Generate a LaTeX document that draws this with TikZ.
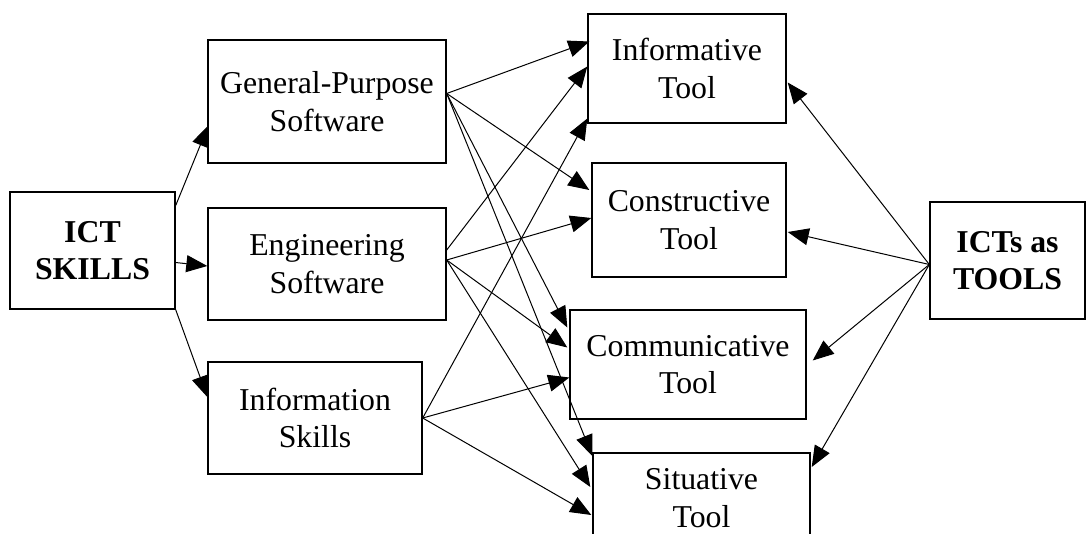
\documentclass[tikz,border=0pt]{standalone}
\usepackage{fontspec}
\setmainfont{Liberation Serif}
\usepackage{tikz}
\usetikzlibrary{shapes,arrows.meta,calc}
\tikzset{box/.style={rectangle,draw,line width=0.7pt,align=center,inner sep=0pt,font=\fontsize{15.9}{18.8}\selectfont}}

\begin{document}
\begin{tikzpicture}[x=0.5pt,y=-0.5pt,>={Triangle[length=10.5pt,width=8.5pt]},line width=0.5pt]
    \useasboundingbox (0,0) rectangle (1087,534);
    \clip (0,0) rectangle (1087,534);

    \node[box,minimum width=82.5pt,minimum height=58.5pt] (skills)at (92.5,250.5) {\textbf{ICT}\\\textbf{SKILLS}};
    \node[box,minimum width=119pt,minimum height=61.5pt] (gp)at (327,101.5) {General-Purpose\\Software};
    \node[box,minimum width=119pt,minimum height=56pt] (eng)at (327,264) {Engineering\\Software};
    \node[box,minimum width=107pt,minimum height=56pt] (info)at (315,418) {Information\\Skills};
    \node[box,minimum width=99pt,minimum height=54.5pt] (inf)at (687,68.5) {Informative\\Tool};
    \node[box,minimum width=97pt,minimum height=57pt] (con)at (689,220) {Constructive\\Tool};
    \node[box,minimum width=118pt,minimum height=54.5pt] (com)at (688,364.5) {Communicative\\Tool};
    \node[box,minimum width=108.5pt,minimum height=45pt] (sit)at (701.5,498) {Situative\\Tool};
    \node[box,minimum width=77.5pt,minimum height=58.5pt] (tools)at (1007.5,260.5) {\textbf{ICTs as}\\\textbf{TOOLS}};

    \draw [->] ($(skills.east)+(0,-45)$) to ($(gp.west)+(1,24)$);
    \draw [->] ($(skills.east)+(0,12)$) to ($(eng.west)+(0,2)$);
    \draw [->] (skills.south east) to ($(info.west)+(0,-21)$);

    \draw [->] ($(gp.east)+(0,-8)$) to ($(inf.west)+(2,-27)$);
    \draw [->] ($(gp.east)+(0,-8)$) to ($(con.west)+(-2,-30)$);
    \draw [->] ($(gp.east)+(0,-8)$) to ($(com.west)+(-2,-37)$);
    \draw [->] ($(gp.east)+(0,-8)$) to ($(sit.west)+(0,-42)$);

    \draw [->] ($(eng.east)+(0,-14)$) to ($(inf.west)+(0,-2)$);
    \draw [->] ($(eng.east)+(0,-4)$) to ($(con.west)+(0,-2)$);
    \draw [->] ($(eng.east)+(0,-4)$) to ($(com.west)+(-2,-17)$);
    \draw [->] ($(eng.east)+(0,-4)$) to ($(sit.west)+(-2,-11)$);

    \draw [->] (info.east) to ($(inf.west)+(0,50)$);
    \draw [->] (info.east) to ($(com.west)+(0,13)$);
    \draw [->] (info.east) to ($(sit.west)+(-1,17)$);

    \draw [->] ($(tools.west)+(0,4)$) to ($(inf.east)+(1,14)$);
    \draw [->] ($(tools.west)+(0,4)$) to ($(con.east)+(1,12)$);
    \draw [->] ($(tools.west)+(0,4)$) to ($(com.east)+(6,-4)$);
    \draw [->] ($(tools.west)+(0,4)$) to ($(sit.east)+(1,-31)$);
\end{tikzpicture}
\end{document}
